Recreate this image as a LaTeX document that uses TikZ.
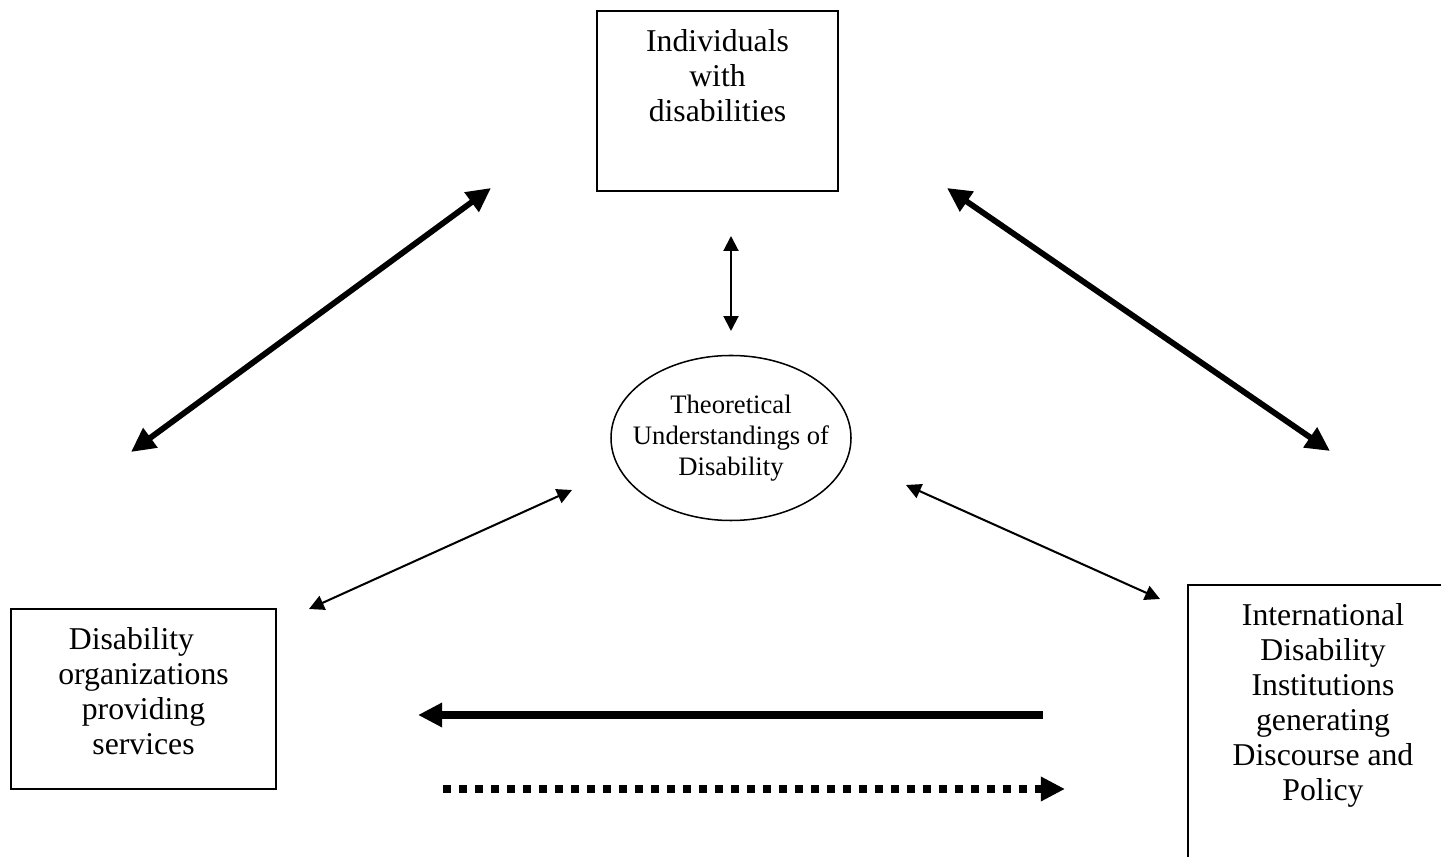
\documentclass[tikz,border=0pt]{standalone}
\usepackage{fontspec}
\setmainfont{Liberation Serif}
\usetikzlibrary{arrows.meta,shapes.geometric}
\newlength{\px}
\setlength{\px}{0.394pt}
% text of a box, set from its top edge
\newcommand{\boxtext}[3]{\parbox[t][#2][t]{#1}{\centering\rule{0pt}{40\px}#3}}
\tikzset{
  pbox/.style={draw, line width=0.8pt, rectangle, inner sep=0pt, anchor=north west,
               font=\fontsize{12.5}{13.8}\selectfont},
  tnode/.style={draw, ellipse, line width=0.6pt, inner sep=-40pt, align=center,
                minimum width=240\px, minimum height=165\px,
                font=\fontsize{10.5}{12.2}\selectfont},
  bigarrow/.style={line width=2.3pt, {Triangle[length=9.5pt,width=9.1pt]}-{Triangle[length=9.5pt,width=9.1pt]}},
  smallarrow/.style={line width=0.8pt, {Triangle[length=5.9pt,width=5.9pt]}-{Triangle[length=5.9pt,width=5.9pt]}},
  flowarrow/.style={line width=2.8pt, -{Triangle[length=9.5pt,width=9.1pt]}},
  dotflow/.style={flowarrow, line width=3.2pt, dash pattern=on 3.3pt off 3pt},
}
\begin{document}
\begin{tikzpicture}[x=0.394pt, y=-0.394pt]
\clip (0,0) rectangle (1441,857);
% Boxes
\node[pbox] (indiv) at (596,10) {\boxtext{241\px}{180\px}{Individuals\\with\\disabilities}};
\node[pbox] (org) at (10,608) {\boxtext{265\px}{180\px}{Disability\hspace{9.5pt}\null\\organizations\\providing\\services}};
\node[pbox] (intl) at (1187,584) {\boxtext{270\px}{300\px}{International\\Disability\\Institutions\\generating\\Discourse and\\Policy}};
% Centre ellipse
\node[tnode] (theory) at (731,438) {Theoretical\\Understandings of\\Disability};
% Arrow end points
\coordinate (orgUp) at (131,452);
\coordinate (indivL) at (491,188);
\coordinate (indivR) at (947,188);
\coordinate (intlUp) at (1330,451);
\coordinate (indivB) at (731,236);
\coordinate (theoryT) at (731,331);
\coordinate (orgR) at (309,609);
\coordinate (theoryL) at (572,490);
\coordinate (theoryR) at (906,485);
\coordinate (intlL) at (1160,599);
\coordinate (flowA) at (1043,715);
\coordinate (flowB) at (418,715);
\coordinate (flowC) at (443,789);
\coordinate (flowD) at (1065,789);
% Arrows
\draw[bigarrow] (orgUp) -- (indivL);
\draw[bigarrow] (indivR) -- (intlUp);
\draw[smallarrow] (indivB) -- (theoryT);
\draw[smallarrow] (orgR) -- (theoryL);
\draw[smallarrow] (theoryR) -- (intlL);
\draw[flowarrow] (flowA) -- (flowB);
\draw[dotflow] (flowC) -- (flowD);
\end{tikzpicture}
\end{document}
